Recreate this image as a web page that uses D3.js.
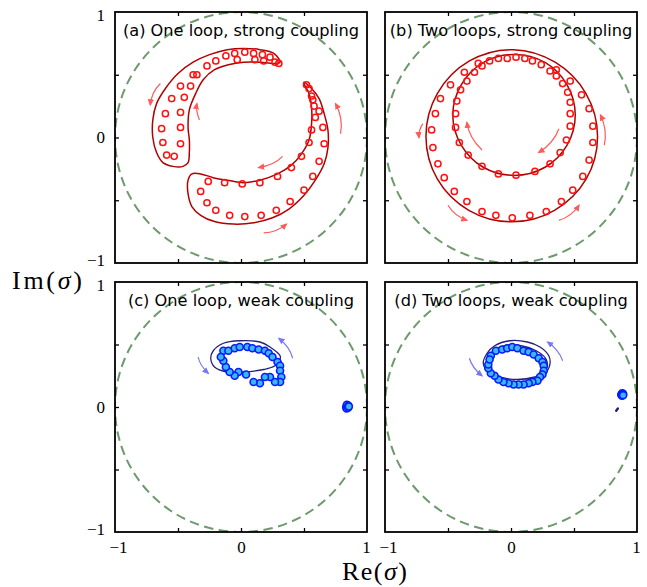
<!DOCTYPE html>
<html><head><meta charset="utf-8">
<script src="https://cdn.jsdelivr.net/npm/d3@7"></script>
<style>body{margin:0;background:#fff}</style>
</head><body>
<svg id="chart" width="647" height="587"></svg>
<script>
// ---------------- data ----------------
const titles = ["(a) One loop, strong coupling", "(b) Two loops, strong coupling",
                "(c) One loop, weak coupling", "(d) Two loops, weak coupling"];
const tickLabelValues = [-1, 0, 1];
const minorTickValues = [-0.5, 0, 0.5];
const unitRadius = 1;

// (a) one loop, strong coupling
const aMarkers = [
 [0.30,0.59],[0.23,0.64],[0.17,0.66],[0.10,0.67],[0.03,0.68],[-0.05,0.67],[-0.12,0.65],[-0.20,0.61],[-0.27,0.57],
 [-0.38,0.50],[-0.48,0.41],[-0.55,0.31],[-0.60,0.19],[-0.63,0.07],[-0.62,-0.04],[-0.59,-0.14],
 [0.27,0.60],[0.18,0.61],[0.11,0.62],[-0.03,0.62],[-0.35,0.50],[-0.40,0.41],[-0.45,0.32],[-0.48,0.20],
 [-0.48,0.08],[-0.48,-0.05],[-0.53,-0.15],
 [0.52,0.42],[0.54,0.39],[0.56,0.33],[0.57,0.30],[0.58,0.25],[0.62,0.21],[0.65,0.08],[0.66,-0.05],[0.62,-0.19],
 [0.57,-0.31],[0.50,-0.42],[0.39,-0.51],[0.28,-0.58],[0.16,-0.62],[0.03,-0.63],[-0.09,-0.62],[-0.20,-0.58],
 [-0.27,-0.52],[-0.32,-0.43],
 [0.59,0.16],[0.56,0.06],[0.54,-0.04],[0.48,-0.15],[0.40,-0.24],[0.29,-0.31],[0.15,-0.36],[0.01,-0.37],
 [-0.13,-0.36],[-0.26,-0.35]
];
const aLineUpper = [
 [0.31,0.60],[0.26,0.67],[0.15,0.70],[0.02,0.71],[-0.11,0.70],[-0.25,0.66],[-0.38,0.60],[-0.50,0.51],
 [-0.60,0.39],[-0.67,0.27],[-0.70,0.14],[-0.70,0.00],[-0.67,-0.12],[-0.62,-0.20],[-0.54,-0.23],[-0.46,-0.23],
 [-0.42,-0.20],[-0.41,-0.12],[-0.41,-0.02],[-0.42,0.08],[-0.41,0.22],[-0.36,0.35],[-0.30,0.46],[-0.21,0.54],
 [-0.10,0.58],[0.02,0.60],[0.15,0.60],[0.26,0.59]
];
const aLineLower = [
 [0.50,0.44],[0.56,0.39],[0.62,0.31],[0.66,0.19],[0.69,0.06],[0.69,-0.08],[0.66,-0.21],[0.59,-0.34],
 [0.50,-0.46],[0.38,-0.57],[0.25,-0.64],[0.10,-0.68],[-0.06,-0.69],[-0.21,-0.67],[-0.32,-0.62],[-0.39,-0.55],
 [-0.42,-0.45],[-0.42,-0.34],[-0.39,-0.29],[-0.32,-0.29],[-0.22,-0.32],[-0.11,-0.34],[0.02,-0.36],[0.15,-0.34],
 [0.29,-0.29],[0.40,-0.22],[0.48,-0.13],[0.54,-0.02],[0.56,0.11],[0.56,0.24],[0.54,0.35],[0.50,0.43]
];
const aArrows = [
 [-0.64,0.43,-0.72,0.26],[-0.33,0.14,-0.35,0.27],[0.33,-0.15,0.14,-0.24],[0.18,-0.76,0.36,-0.69],[0.79,0.03,0.75,0.27]
];

// (b) two loops, strong coupling
const bMarkers = [
 [-0.37,0.52],[-0.48,0.42],[-0.56,0.31],[-0.60,0.19],[-0.63,0.06],[-0.62,-0.08],[-0.58,-0.21],[-0.53,-0.32],
 [-0.45,-0.43],[-0.35,-0.51],[-0.23,-0.59],[-0.12,-0.62],[0.01,-0.64],[0.15,-0.62],[0.28,-0.59],[0.40,-0.51],
 [0.49,-0.42],[0.57,-0.31],[0.62,-0.18],[0.65,-0.04],[0.65,0.09],[0.62,0.23],[0.56,0.34],[0.47,0.45],[0.36,0.54],
 [-0.26,0.59],
 [-0.29,0.52],[-0.35,0.45],[-0.40,0.38],[-0.43,0.29],[-0.44,0.19],[-0.44,0.08],[-0.41,-0.04],[-0.34,-0.14],
 [-0.23,-0.23],[-0.10,-0.29],[0.04,-0.30],[0.19,-0.27],[0.31,-0.21],[0.39,-0.12],[0.44,-0.02],[0.47,0.09],
 [0.47,0.19],[0.47,0.28],[0.45,0.36],[0.41,0.43],[0.36,0.49],[0.31,0.53],[0.24,0.58],[0.17,0.61],[0.11,0.63],
 [0.04,0.64],[-0.03,0.63],[-0.10,0.63],[-0.17,0.61],[-0.23,0.57]
];
const bLineOuter = [
 [0.687,0.01],[0.595,0.35],[0.35,0.60],[0.02,0.70],[-0.33,0.61],[-0.585,0.35],[-0.675,0.01],
 [-0.585,-0.33],[-0.335,-0.58],[0.005,-0.672],[0.345,-0.58],[0.597,-0.33]
];
const bLineInner = [
 [0.51,0.18],[0.445,0.42],[0.27,0.598],[0.025,0.662],[-0.22,0.597],[-0.395,0.42],[-0.462,0.18],
 [-0.395,-0.06],[-0.22,-0.237],[0.025,-0.302],[0.27,-0.237],[0.445,-0.06]
];
const bArrows = [
 [-0.70,0.11,-0.73,0.00],[-0.50,-0.54,-0.35,-0.66],[0.38,-0.66,0.54,-0.54],[0.74,-0.06,0.71,0.18],
 [0.38,0.07,0.22,-0.12],[-0.23,-0.10,-0.35,0.12]
];

// (c) one loop, weak coupling
const cMarkers = [
 [-0.14,0.45],[-0.10,0.45],[-0.05,0.47],[-0.01,0.48],[0.05,0.48],[0.09,0.47],[0.14,0.46],[0.19,0.45],[0.22,0.43],
 [0.25,0.40],[0.29,0.36],[0.31,0.33],[0.31,0.29],[0.32,0.24],[0.31,0.20],[0.27,0.20],[0.23,0.24],[0.19,0.24],
 [0.15,0.19],[0.10,0.20],[0.04,0.26],[-0.02,0.28],[-0.05,0.25],[-0.09,0.28],[-0.12,0.32],[-0.14,0.37],[-0.16,0.40],
 [0.835,0.0],[0.84,0.018],[0.838,-0.012],[0.852,0.012],[0.85,-0.006],[0.856,0.004]
];
const cLine = [
 [0.31,0.41],[0.23,0.48],[0.15,0.52],[-0.01,0.53],[-0.14,0.51],[-0.22,0.45],[-0.24,0.39],[-0.21,0.32],
 [-0.11,0.28],[0.02,0.28],[0.18,0.30],[0.27,0.33],[0.31,0.38]
];
const cArrows = [[0.41,0.39,0.30,0.55],[-0.34,0.40,-0.26,0.27]];

// (d) two loops, weak coupling
const dMarkers = [
 [-0.16,0.41],[-0.12,0.45],[-0.07,0.46],[-0.03,0.47],[0.01,0.48],[0.05,0.47],[0.10,0.45],[0.14,0.44],[0.18,0.42],
 [0.22,0.39],[0.25,0.36],[0.26,0.33],[0.26,0.29],[0.25,0.26],[0.23,0.24],[0.21,0.21],[0.17,0.20],[0.14,0.19],
 [0.10,0.18],[0.06,0.18],[0.02,0.18],[-0.02,0.19],[-0.06,0.20],[-0.10,0.22],[-0.13,0.25],[-0.16,0.27],[-0.18,0.31],
 [-0.18,0.34],[-0.17,0.38],
 [0.875,0.10],[0.882,0.11],[0.88,0.09],[0.89,0.105],[0.89,0.095]
];
const dLine = [
 [-0.22,0.35],[-0.19,0.43],[-0.13,0.49],[-0.01,0.53],[0.13,0.52],[0.23,0.48],[0.30,0.41],[0.31,0.35],
 [0.28,0.28],[0.19,0.24],[0.05,0.22],[-0.09,0.24],[-0.18,0.28]
];
const dLineInner = [
 [-0.19,0.36],[-0.15,0.44],[-0.05,0.49],[0.08,0.49],[0.20,0.45],[0.28,0.38],[0.28,0.30],[0.20,0.23],
 [0.06,0.20],[-0.08,0.22],[-0.16,0.28]
];
const dTail = [[0.835,-0.03],[0.848,-0.012]];
const dArrows = [[0.41,0.37,0.29,0.52],[-0.33,0.39,-0.23,0.25]];

// ---------------- drawing ----------------
const svg = d3.select("#chart");
const layout = [
 {x0:115, x1:367, y0:12,  y1:263},
 {x0:385, x1:637, y0:12,  y1:263},
 {x0:115, x1:367, y0:282, y1:532},
 {x0:385, x1:637, y0:282, y1:532}
];
const strongStyle = {marker:"open", line:"#b00000", arrow:"#ff5a5a", lw:1.5};
const weakStyle = {marker:"filled", line:"#22227a", arrow:"#7878f0", lw:1.3};
const panelData = [
 {markers:aMarkers, lines:[aLineUpper, aLineLower], arrows:aArrows, style:strongStyle, c:[0,0]},
 {markers:bMarkers, lines:[bLineOuter, bLineInner], arrows:bArrows, style:strongStyle, c:[0.02,0.1]},
 {markers:cMarkers, lines:[cLine], arrows:cArrows, style:weakStyle, c:[0.05,0.37]},
 {markers:dMarkers, lines:[dLine, dLineInner], arrows:dArrows, style:weakStyle, c:[0.05,0.36], tail:dTail}
];

const defs = svg.append("defs");
function arrowMarker(id, color){
  defs.append("marker").attr("id", id).attr("viewBox","0 0 10 10").attr("refX",8).attr("refY",5)
    .attr("markerWidth",7).attr("markerHeight",7).attr("markerUnits","userSpaceOnUse").attr("orient","auto")
    .append("path").attr("d","M0,0.5 L10,5 L0,9.5 Z").attr("fill", color);
}
arrowMarker("arrStrong", strongStyle.arrow);
arrowMarker("arrWeak", weakStyle.arrow);

const fmt = d => d < 0 ? "\u2212" + Math.abs(d) : String(d);

layout.forEach((L, i) => {
  const P = panelData[i];
  const x = d3.scaleLinear().domain([-1, 1]).range([L.x0, L.x1]);
  const y = d3.scaleLinear().domain([-1, 1]).range([L.y1, L.y0]);
  const g = svg.append("g");
  const clipId = "clip" + i;
  defs.append("clipPath").attr("id", clipId).append("rect")
    .attr("x", L.x0).attr("y", L.y0).attr("width", L.x1 - L.x0).attr("height", L.y1 - L.y0);
  const inner = g.append("g").attr("clip-path", `url(#${clipId})`);

  // dashed unit circle
  inner.append("ellipse").attr("cx", x(0)).attr("cy", y(0))
    .attr("rx", x(unitRadius) - x(0)).attr("ry", y(0) - y(unitRadius))
    .attr("fill","none").attr("stroke","#6d9a6d").attr("stroke-width",2)
    .attr("stroke-dasharray","9.5,5.5");

  // lines
  const line = d3.line().x(d => x(d[0])).y(d => y(d[1])).curve(d3.curveCatmullRomClosed.alpha(0.5));
  P.lines.forEach(ln => {
    inner.append("path").attr("d", line(ln)).attr("fill","none")
      .attr("stroke", P.style.line).attr("stroke-width", P.style.lw);
  });
  if (P.tail) {
    inner.append("path").attr("d", d3.line().x(d => x(d[0])).y(d => y(d[1]))(P.tail))
      .attr("stroke", P.style.line).attr("stroke-width", 2.4).attr("stroke-linecap","round");
  }

  // arrows (curved, bulging away from loop centre)
  P.arrows.forEach(a => {
    const sx = x(a[0]), sy = y(a[1]), ex = x(a[2]), ey = y(a[3]);
    const mx = (sx + ex) / 2, my = (sy + ey) / 2;
    const cx0 = x(P.c[0]), cy0 = y(P.c[1]);
    let vx = mx - cx0, vy = my - cy0; const vl = Math.hypot(vx, vy) || 1;
    const len = Math.hypot(ex - sx, ey - sy);
    const k = 0.18 * len;
    const qx = mx + vx / vl * k, qy = my + vy / vl * k;
    inner.append("path").attr("d", `M${sx},${sy} Q${qx},${qy} ${ex},${ey}`)
      .attr("fill","none").attr("stroke", P.style.arrow).attr("stroke-width",1.2)
      .attr("marker-end", P.style.marker === "open" ? "url(#arrStrong)" : "url(#arrWeak)");
  });

  // markers
  const m = inner.selectAll("circle.pt").data(P.markers).join("circle").attr("class","pt")
    .attr("cx", d => x(d[0])).attr("cy", d => y(d[1]));
  if (P.style.marker === "open") {
    m.attr("r", 3.1).attr("fill","none").attr("stroke","#ff1010").attr("stroke-width",1.5);
  } else {
    m.attr("r", 3.5).attr("fill","#38b8f8").attr("stroke","#0a1aff").attr("stroke-width",1.6);
  }

  // frame
  g.append("rect").attr("x", L.x0).attr("y", L.y0).attr("width", L.x1 - L.x0).attr("height", L.y1 - L.y0)
    .attr("fill","none").attr("stroke","#000").attr("stroke-width",1.8);

  // inward minor ticks on all four sides
  const tickAxes = [
    [d3.axisBottom(x), `translate(0,${L.y1})`],
    [d3.axisTop(x), `translate(0,${L.y0})`],
    [d3.axisLeft(y), `translate(${L.x0},0)`],
    [d3.axisRight(y), `translate(${L.x1},0)`]
  ];
  tickAxes.forEach(([ax, tr]) => {
    const ag = g.append("g").attr("transform", tr)
      .call(ax.tickValues(minorTickValues).tickSize(-4).tickFormat(""));
    ag.select(".domain").remove();
    ag.selectAll("line").attr("stroke","#000").attr("stroke-width",1.3);
  });

  // tick labels
  if (i === 0 || i === 2) {
    const lg = g.append("g").attr("transform", `translate(${L.x0},0)`)
      .call(d3.axisLeft(y).tickValues(tickLabelValues).tickSize(0).tickPadding(10).tickFormat(fmt));
    lg.select(".domain").remove();
    lg.selectAll("text").attr("font-family","'Liberation Serif', serif").attr("font-size",17)
      .attr("fill","#000").attr("y", d => d === 1 ? 3 : d === -1 ? -3 : 0);
  }
  if (i === 2 || i === 3) {
    const bg = g.append("g").attr("transform", `translate(0,${L.y1})`)
      .call(d3.axisBottom(x).tickValues(tickLabelValues).tickSize(0).tickPadding(9).tickFormat(fmt));
    bg.select(".domain").remove();
    bg.selectAll("text").attr("font-family","'Liberation Serif', serif").attr("font-size",17)
      .attr("fill","#000").attr("x", d => d === -1 ? 3 : d === 1 ? -1 : 0);
  }

  // title
  g.append("text").attr("x", (L.x0 + L.x1) / 2).attr("y", L.y0 + 23.5).attr("text-anchor","middle")
    .attr("font-family","'DejaVu Sans', sans-serif").attr("font-size",16.2).attr("fill","#000")
    .text(titles[i]);
});

// axis titles
function mathLabel(xp, yp, pre, len){
  const t = svg.append("text").attr("x", xp).attr("y", yp)
    .attr("font-family","'Liberation Serif', serif").attr("font-size",26).attr("fill","#000")
    .attr("textLength", len).attr("lengthAdjust","spacing");
  t.append("tspan").text(pre + "(");
  t.append("tspan").attr("font-style","italic").text("\u03c3");
  t.append("tspan").text(")");
}
mathLabel(12, 289, "Im", 70);
mathLabel(342, 580, "Re", 65);
</script>
</body></html>
